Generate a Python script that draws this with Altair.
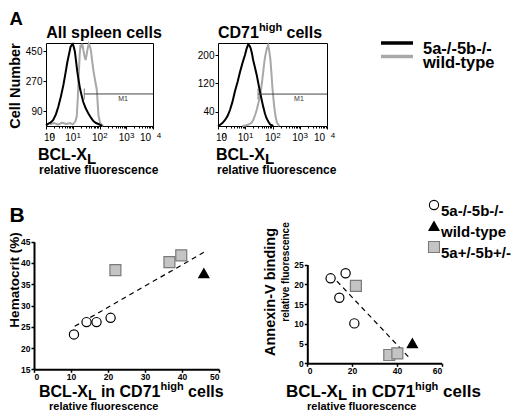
import altair as alt
import numpy as np
import pandas as pd

W, H = 504, 402
M = 8
FONT = "Liberation Sans"

# ---------------- data ----------------
genotypes = ["5a-/-5b-/-", "wild-type"]
groups = ["5a-/-5b-/-", "wild-type", "5a+/-5b+/-"]

# Panel A, all spleen cells (log10 BCL-XL fluorescence, cell number)
spl_ko_log = [0.0, 0.09, 0.18, 0.27, 0.37, 0.46, 0.56, 0.65, 0.73, 0.80, 0.87, 0.92, 0.97, 1.00,
              1.04, 1.08, 1.12, 1.17, 1.22, 1.27, 1.33, 1.39, 1.48, 1.58, 1.68, 1.77, 1.87, 1.96, 2.04, 2.10]
spl_ko_n = [4, 14, 22, 36, 70, 116, 180, 247, 320, 387, 440, 478, 490, 494,
            475, 448, 395, 327, 275, 227, 185, 146, 108, 76, 50, 30, 18, 12, 5, 0]
spl_wt_log = [0.15, 0.3, 0.45, 0.6, 0.75, 0.9, 1.0, 1.1, 1.15, 1.19, 1.23, 1.26, 1.29, 1.32, 1.36,
              1.40, 1.44, 1.48, 1.52, 1.56, 1.60, 1.64, 1.68, 1.72, 1.77, 1.83, 1.90, 1.96, 2.02, 2.08, 2.14]
spl_wt_n = [10, 18, 8, 20, 12, 18, 10, 28, 60, 170, 330, 430, 490, 470, 495,
            455, 420, 398, 430, 470, 495, 480, 455, 400, 337, 280, 217, 66, 20, 8, 0]

# Panel A, CD71high cells
cd_ko_log = [0.0, 0.07, 0.17, 0.26, 0.35, 0.44, 0.53, 0.62, 0.72, 0.81, 0.90, 0.99, 1.05, 1.11, 1.16,
             1.20, 1.25, 1.29, 1.35, 1.42, 1.48, 1.54, 1.60, 1.66, 1.72, 1.78, 1.85, 1.91, 1.97, 2.03]
cd_ko_n = [0, 3, 9, 17, 28, 45, 68, 97, 125, 153, 178, 200, 218, 230, 226,
           219, 203, 186, 167, 144, 120, 97, 75, 54, 36, 22, 12, 5, 2, 0]
cd_wt_log = [0.9, 1.05, 1.15, 1.24, 1.30, 1.36, 1.42, 1.48, 1.52, 1.56, 1.61, 1.66, 1.70,
             1.74, 1.79, 1.84, 1.88, 1.92, 1.96, 1.99, 2.03, 2.07, 2.11, 2.16, 2.21, 2.26]
cd_wt_n = [0, 2, 5, 10, 18, 31, 45, 64, 75, 92, 120, 153, 180,
           200, 218, 228, 212, 190, 150, 115, 80, 50, 28, 10, 4, 0]

# M1 gates
m1_start = [1.43, 1.47]
m1_level = [193, 90]
m1_label_at = [2.88, 2.97]

# Panel B
hct_x = [10.8, 14.2, 16.9, 20.7, 22.0, 36.6, 39.8, 45.9]
hct_y = [23.2, 26.1, 26.1, 27.1, 38.3, 40.2, 41.8, 37.6]
ann_x = [10.4, 17.1, 14.3, 21.0, 21.7, 36.6, 40.2, 46.9]
ann_y = [21.5, 22.8, 16.6, 10.1, 19.6, 2.1, 2.5, 5.1]
pt_group = [groups[0]] * 4 + [groups[2]] * 3 + [groups[1]]
hct_fit_x = [11.0, 45.9]
hct_fit_y = [25.1, 42.5]
ann_fit_x = [13.2, 46.2]
ann_fit_y = [20.8, 1.0]

# ---------------- helpers ----------------
def X(x):
    return x - M


def Y(y):
    return y - M


def sc(domain, rng):
    return alt.Scale(domain=domain, range=rng, nice=False, zero=False)


CW = {' ': 278, '(': 333, ')': 333, '%': 889, '-': 333, '/': 278, '+': 584,
      'A': 722, 'B': 722, 'C': 722, 'D': 722, 'L': 611, 'X': 667, 'V': 667, 'H': 722, 'N': 722,
      'a': 556, 'b': 611, 'c': 556, 'd': 611, 'e': 556, 'f': 333, 'g': 611, 'h': 611, 'i': 278,
      'l': 278, 'm': 889, 'n': 611, 'o': 611, 'p': 611, 'r': 389, 's': 556, 't': 333, 'u': 611,
      'v': 556, 'w': 778, 'x': 556, 'y': 556}


def tw(s, size):
    return sum(CW.get(c, 556) for c in s) * size / 1000.0


def txt(s, x, y, size, angle=0, align="left", baseline="alphabetic", weight="bold", color="black"):
    return alt.Chart(pd.DataFrame({"t": [s]})).mark_text(
        font=FONT, fontSize=size, fontWeight=weight, align=align, baseline=baseline,
        angle=angle, color=color
    ).encode(text="t:N", x=alt.value(X(x)), y=alt.value(Y(y)))


def rich(parts, x, y):
    out = []
    cx = x
    for s, size, dy in parts:
        lead = len(s) - len(s.lstrip(" "))
        cx += tw(" " * lead, size)
        body = s.strip(" ")
        out.append(txt(body, cx, y + dy, size))
        cx += tw(body, size)
    return out


color_scale = alt.Scale(domain=genotypes, range=["black", "#a8a8a8"])
shape_scale = alt.Scale(domain=groups, range=["circle", "triangle-up", "square"])
fill_scale = alt.Scale(domain=groups, range=["white", "black", "#c4c4c4"])
stroke_scale = alt.Scale(domain=groups, range=["black", "black", "#7a7a7a"])
size_scale = alt.Scale(domain=groups, range=[85, 120, 85])

minor = [float(d + np.log10(k)) for d in range(4) for k in range(2, 10)]


def hist_panel(ko_log, ko_n, wt_log, wt_n, box, ymax, yticks, m1s, m1l, m1t):
    x0, x1, yt, yb = box
    xs = sc([0, 4], [X(x0), X(x1)])
    ys = sc([0, ymax], [Y(yb), Y(yt)])
    df_ko = pd.DataFrame({"lx": ko_log, "n": ko_n, "g": genotypes[0]})
    df_wt = pd.DataFrame({"lx": wt_log, "n": wt_n, "g": genotypes[1]})
    col = alt.Color("g:N", scale=color_scale, legend=None)
    gray = alt.Chart(df_wt).mark_line(strokeWidth=2).encode(
        x=alt.X("lx:Q", scale=xs, title=None,
                axis=alt.Axis(orient="bottom", offset=Y(yb) - H, values=[0, 1, 2, 3, 4],
                              labelExpr="'10'", labelFontSize=10, labelOffset=-2.5,
                              labelPadding=3, tickSize=3, domainWidth=1, grid=False)),
        y=alt.Y("n:Q", scale=ys, title=None,
                axis=alt.Axis(orient="left", offset=-X(x0), values=yticks, labelFontSize=10,
                              tickSize=3, labelPadding=1, domainWidth=1, grid=False)),
        color=col,
    )
    black = alt.Chart(df_ko).mark_line(strokeWidth=2).encode(
        x=alt.X("lx:Q", scale=xs, title=None,
                axis=alt.Axis(orient="top", offset=-Y(yt), labels=False, ticks=False,
                              domainWidth=1, grid=False)),
        y=alt.Y("n:Q", scale=ys, title=None,
                axis=alt.Axis(orient="right", offset=X(x1) - W, labels=False, ticks=False,
                              domainWidth=1, grid=False)),
        color=col,
    )
    mdf = pd.DataFrame({"s": [m1s], "e": [4.0], "lvl": [m1l], "tx": [m1t], "lab": ["M1"]})
    m1rule = alt.Chart(mdf).mark_rule(color="#444444", strokeWidth=1).encode(
        x=alt.X("s:Q", scale=xs, axis=None), x2="e:Q",
        y=alt.Y("lvl:Q", scale=ys, axis=None))
    m1tick = alt.Chart(mdf).mark_tick(orient="vertical", size=11, thickness=1, color="#444444").encode(
        x=alt.X("s:Q", scale=xs, axis=None), y=alt.Y("lvl:Q", scale=ys, axis=None))
    m1txt = alt.Chart(mdf).mark_text(font=FONT, fontSize=7, dy=5, color="#333333").encode(
        x=alt.X("tx:Q", scale=xs, axis=None), y=alt.Y("lvl:Q", scale=ys, axis=None), text="lab:N")
    edf = pd.DataFrame({"e": [0, 1, 2, 3, 4], "s": ["0", "1", "2", "3", "4"]})
    exps = alt.Chart(edf).mark_text(font=FONT, fontSize=8, align="left", dx=3.8, color="black").encode(
        x=alt.X("e:Q", scale=xs, title=None,
                axis=alt.Axis(orient="bottom", offset=Y(yb) - H, values=minor, labels=False,
                              domain=False, tickSize=2, grid=False)),
        y=alt.value(Y(yb + 9.5)), text="s:N")
    return [gray, black, m1rule, m1tick, m1txt, exps]


def scatter_panel(xv, yv, fx, fy, xdom, ydom, box, xticks, yticks):
    x0, x1, yt, yb = box
    xs = sc(xdom, [X(x0), X(x1)])
    ys = sc(ydom, [Y(yb), Y(yt)])
    fit = alt.Chart(pd.DataFrame({"x": fx, "y": fy})).mark_line(
        strokeDash=[5, 4], color="black", strokeWidth=1.2).encode(
        x=alt.X("x:Q", scale=xs, axis=None), y=alt.Y("y:Q", scale=ys, axis=None))
    pts = alt.Chart(pd.DataFrame({"x": xv, "y": yv, "g": pt_group})).mark_point(
        filled=True, strokeWidth=1.2, opacity=1).encode(
        x=alt.X("x:Q", scale=xs, title=None,
                axis=alt.Axis(orient="bottom", offset=Y(yb) - H, values=xticks, labelFontSize=8.5,
                              labelFontWeight="bold", tickSize=3, labelPadding=0, domainWidth=2,
                              tickWidth=1.5, grid=False)),
        y=alt.Y("y:Q", scale=ys, title=None,
                axis=alt.Axis(orient="left", offset=-X(x0), values=yticks, labelFontSize=8.5,
                              labelFontWeight="bold", tickSize=3, labelPadding=1, domainWidth=2,
                              tickWidth=1.5, grid=False)),
        shape=alt.Shape("g:N", scale=shape_scale, legend=None),
        fill=alt.Fill("g:N", scale=fill_scale, legend=None),
        stroke=alt.Stroke("g:N", scale=stroke_scale, legend=None),
        size=alt.Size("g:O", scale=size_scale, legend=None),
    )
    return [fit, pts]


layers = []

# ----- panel A -----
layers += hist_panel(spl_ko_log, spl_ko_n, spl_wt_log, spl_wt_n, (46, 153, 43, 126), 500,
                     [90, 270, 450], m1_start[0], m1_level[0], m1_label_at[0])
layers += hist_panel(cd_ko_log, cd_ko_n, cd_wt_log, cd_wt_n, (218, 327, 43, 126), 234,
                     [40, 120, 200], m1_start[1], m1_level[1], m1_label_at[1])

layers.append(txt("A", 9.5, 25, 18.5))
layers.append(txt("All spleen cells", 104, 38, 16, align="center"))
layers += rich([("CD71", 16, 0), ("high", 11, -7), (" cells", 16, 0)], 218, 38)
layers.append(txt("Cell Number", 16, 86, 14.5, angle=270, align="center", baseline="middle"))
for bx in (38, 216):
    layers += rich([("BCL-X", 16, 0), ("L", 15, 3.5)], bx, 160)
    layers.append(txt("relative fluorescence", bx + 1, 174, 12))

# legend A
leg_a = pd.DataFrame({"g": genotypes, "r": [0, 1]})
ly_a = sc([0, 1], [Y(43), Y(56.5)])
layers.append(alt.Chart(leg_a).mark_rule(strokeWidth=3.5).encode(
    x=alt.value(X(381)), x2=alt.value(X(413)),
    y=alt.Y("r:Q", scale=ly_a, axis=None),
    color=alt.Color("g:N", scale=color_scale, legend=None)))
layers.append(alt.Chart(leg_a).mark_text(font=FONT, fontSize=16.5, fontWeight="bold", align="left",
                                         dy=6, color="black").encode(
    x=alt.value(X(423)), y=alt.Y("r:Q", scale=ly_a, axis=None), text="g:N"))

# ----- panel B -----
layers += scatter_panel(hct_x, hct_y, hct_fit_x, hct_fit_y, [0, 50], [15, 45], (34, 219, 241.7, 369.3),
                        [0, 10, 20, 30, 40, 50], [15, 20, 25, 30, 35, 40, 45])
layers += scatter_panel(ann_x, ann_y, ann_fit_x, ann_fit_y, [0, 60], [0, 25], (307.3, 441.7, 264.5, 363.3),
                        [0, 20, 40, 60], [0, 5, 10, 15, 20, 25])

layers.append(txt("B", 9.5, 222, 21))
layers.append(txt("Hematocrit (%)", 14.5, 280, 13.5, angle=270, align="center", baseline="middle"))
layers += rich([("BCL-X", 16, 0), ("L", 14, 3), (" in CD71", 16, 0), ("high", 11, -7), (" cells", 16, 0)],
               39, 397)
layers.append(txt("relative fluorescence", 49, 409.5, 11))
layers.append(txt("Annexin-V binding", 271, 292, 14.5, angle=270, align="center", baseline="middle"))
layers.append(txt("relative fluorescence", 286, 272, 10, angle=270, align="center", baseline="middle"))
layers += rich([("BCL-X", 17, 0), ("L", 15, 3), (" in CD71", 17, 0), ("high", 11, -7), (" cells", 17, 0)],
               286, 397)
layers.append(txt("relative fluorescence", 307, 409.5, 11))

# legend B
leg_b = pd.DataFrame({"g": groups, "r": [0, 1, 2]})
ly_b = sc([0, 2], [Y(205), Y(247)])
layers.append(alt.Chart(leg_b).mark_point(filled=True, strokeWidth=1.1, opacity=1).encode(
    x=alt.value(X(434)), y=alt.Y("r:Q", scale=ly_b, axis=None),
    shape=alt.Shape("g:N", scale=shape_scale, legend=None),
    fill=alt.Fill("g:N", scale=fill_scale, legend=None),
    stroke=alt.Stroke("g:N", scale=stroke_scale, legend=None),
    size=alt.Size("g:O", scale=size_scale, legend=None)))
layers.append(alt.Chart(leg_b).mark_text(font=FONT, fontSize=15, fontWeight="bold", align="left",
                                         dy=5.5, color="black").encode(
    x=alt.value(X(441)), y=alt.Y("r:Q", scale=ly_b, axis=None), text="g:N"))

chart = alt.layer(*layers).resolve_scale(x="independent", y="independent").properties(
    width=W, height=H, padding=0, autosize=alt.AutoSizeParams(type="none"), background="white"
).configure_view(stroke=None).configure_axis(
    labelFont=FONT, labelColor="black", tickColor="black", domainColor="black", grid=False
)

chart.save("out.html", embed_options={"renderer": "svg", "actions": False})
